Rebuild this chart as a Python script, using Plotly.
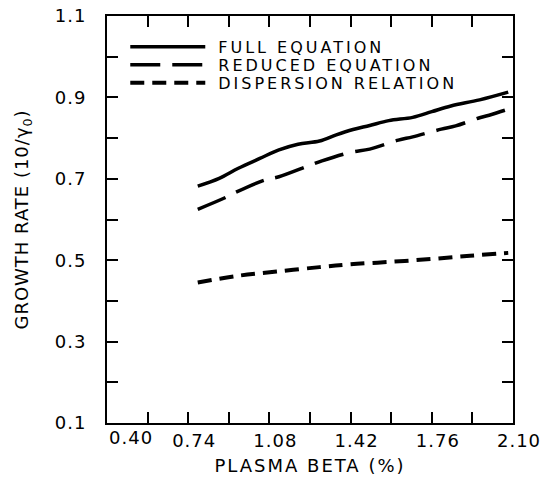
import plotly.graph_objects as go

# ---- data ----
full_x = [0.78, 0.87, 0.95, 1.04, 1.12, 1.20, 1.29, 1.36, 1.43, 1.50, 1.58, 1.68, 1.76, 1.84, 1.96, 2.08]
full_y = [0.682, 0.701, 0.726, 0.750, 0.771, 0.785, 0.793, 0.808, 0.821, 0.831, 0.843, 0.851, 0.865, 0.879, 0.894, 0.913]

red_x = [0.78, 0.90, 0.94, 1.06, 1.12, 1.24, 1.30, 1.42, 1.50, 1.62, 1.68, 1.80, 1.86, 1.96, 2.01, 2.08]
red_y = [0.625, 0.655, 0.667, 0.697, 0.705, 0.731, 0.744, 0.765, 0.773, 0.795, 0.803, 0.822, 0.830, 0.850, 0.858, 0.871]

disp_x = [0.78, 0.94, 1.11, 1.29, 1.42, 1.59, 1.76, 1.92, 2.08]
disp_y = [0.445, 0.461, 0.472, 0.483, 0.490, 0.496, 0.503, 0.511, 0.518]

x_major = [0.74, 1.08, 1.42, 1.76, 2.10]
x_labels = ["0.74", "1.08", "1.42", "1.76", "2.10"]
x_minor = [0.40, 0.57, 0.91, 1.25, 1.59, 1.93]
x_first_label = "0.40"
y_major = [0.1, 0.3, 0.5, 0.7, 0.9, 1.1]
y_labels = ["0.1", "0.3", "0.5", "0.7", "0.9", "1.1"]
y_minor = [0.2, 0.4, 0.6, 0.8, 1.0]

FONT = "DejaVu Sans"

fig = go.Figure()
fig.add_trace(go.Scatter(x=full_x, y=full_y, mode="lines", name="FULL EQUATION",
                         line=dict(color="black", width=3.5, shape="spline")))
fig.add_trace(go.Scatter(x=red_x, y=red_y, mode="lines", name="REDUCED EQUATION",
                         line=dict(color="black", width=3.5, shape="spline", dash="30px,12px")))
fig.add_trace(go.Scatter(x=disp_x, y=disp_y, mode="lines", name="DISPERSION RELATION",
                         line=dict(color="black", width=4, shape="spline", dash="14px,8px")))

axis_common = dict(showgrid=False, zeroline=False, showline=True, linecolor="black",
                   linewidth=2, mirror="ticks", ticks="inside", ticklen=11,
                   tickwidth=1.5, tickcolor="black", automargin=False,
                   tickfont=dict(family=FONT, size=18, color="black"))

fig.update_xaxes(range=[0.40, 2.10], tickmode="array", tickvals=x_major, ticktext=x_labels,
                 minor=dict(tickmode="array", tickvals=x_minor, ticks="inside", ticklen=11,
                            tickwidth=1.5, tickcolor="black", showgrid=False),
                 ticklabelshift=6, ticklabelstandoff=0,
                 title=dict(text="PLASMA BETA (%)", standoff=10,
                            font=dict(family=FONT, size=18, color="black")),
                 **axis_common)
fig.update_yaxes(range=[0.1, 1.1], tickmode="array", tickvals=y_major, ticktext=y_labels,
                 minor=dict(tickmode="array", tickvals=y_minor, ticks="inside", ticklen=11,
                            tickwidth=1.5, tickcolor="black", showgrid=False),
                 ticklabelstandoff=15,
                 title=dict(text="GROWTH RATE (10/γ<sub>0</sub>)", standoff=24,
                            font=dict(family=FONT, size=18, color="black")),
                 **axis_common)

fig.add_annotation(x=0.40, y=0, xref="x", yref="paper", text=x_first_label, showarrow=False,
                   xanchor="center", yanchor="top", xshift=24, yshift=-2,
                   font=dict(family=FONT, size=18, color="black"))

fig.update_layout(
    width=544, height=483,
    margin=dict(l=107, r=31, t=16, b=60),
    paper_bgcolor="white", plot_bgcolor="white",
    showlegend=True,
    legend=dict(x=0.045, y=0.966, xanchor="left", yanchor="top",
                bgcolor="rgba(0,0,0,0)", itemwidth=75, tracegroupgap=0,
                font=dict(family=FONT, size=16, color="black")),
)

post = """
var gd = document.getElementById('{plot_id}');
function sp(sel, v){ gd.querySelectorAll(sel).forEach(function(t){ t.style.letterSpacing = v; }); }
sp('text.legendtext', '3px');
sp('text.xtitle', '2px');
sp('text.ytitle', '1px');
sp('.xtick text', '1px');
sp('.ytick text', '1px');
sp('.annotation-text', '1px');
gd.querySelectorAll('.legend [clip-path]').forEach(function(e){ e.removeAttribute('clip-path'); });
gd.querySelectorAll('text.legendtext').forEach(function(t){
  t.setAttribute('x', parseFloat(t.getAttribute('x') || 0) + 8);
});
var rows = gd.querySelectorAll('.legend g.traces');
var y0 = null;
rows.forEach(function(g, i){
  var tr = g.getAttribute('transform') || '';
  var m = tr.match(/translate\\(([-\\d.e]+)[ ,]*([-\\d.e]+)?\\)/);
  if (!m) return;
  var x = parseFloat(m[1]); var y = parseFloat(m[2] || 0);
  if (y0 === null) y0 = y;
  g.setAttribute('transform', 'translate(' + x + ',' + (y0 + i * 18) + ')');
});
"""

fig.write_html("out.html", post_script=post)
